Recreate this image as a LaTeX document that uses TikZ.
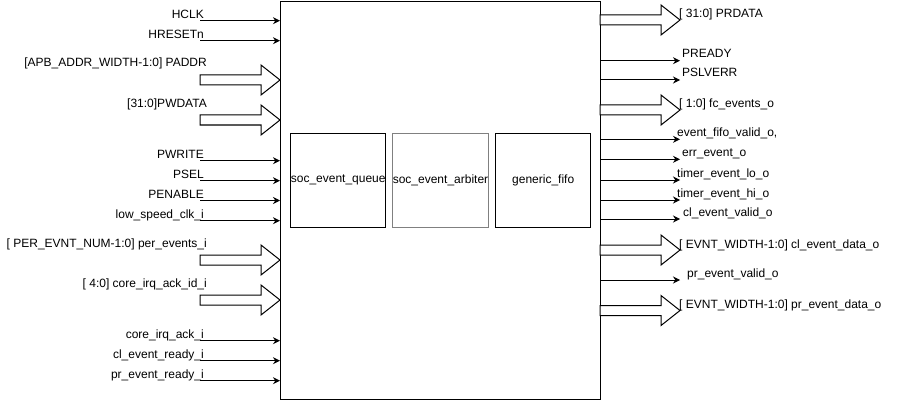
\documentclass[tikz,border=0pt]{standalone}
\usepackage{fontspec}
\setmainfont{Liberation Sans}
\usepackage{tikz}
\usetikzlibrary{arrows.meta}
\tikzset{
    port/.style={draw=black, line width=1pt, -{Stealth[length=7pt,width=7pt]}},
    bus/.style={draw=black, line width=1pt, fill=white},
    block/.style={draw=black, line width=1pt, minimum width=95pt, minimum height=94pt, inner sep=0pt},
    lbl/.style={inner sep=0pt}
}
% wide bus arrow, shaft starts at (#1,#2)
\newcommand{\busarrow}[2]{\draw[bus] (#1,#2) ++(0,-5) -- ++(61,0) -- ++(0,-10) -- ++(19,15) -- ++(-19,15) -- ++(0,-10) -- ++(-61,0) -- cycle;}

\begin{document}
\begin{tikzpicture}[x=1pt, y=-1pt, font=\fontsize{12}{14}\selectfont]
\useasboundingbox (0,0) rectangle (920,401);
\node[draw, line width=1pt, minimum width=320pt, minimum height=398pt, anchor=north west] (top) at (280,1) {};

\node[block] (queue) at (338.2,180) {soc\_event\_queue};
\node[block, draw=gray] (arbiter) at (440.5,180) {soc\_event\_arbiter};
\node[block] (fifo) at (543.2,180) {generic\_fifo};

% single inputs
\foreach \y/\name/\txt in {20.7/hclk/HCLK, 40.7/hresetn/HRESETn, 160.7/pwrite/PWRITE,
    180.7/psel/PSEL, 200.5/penable/PENABLE, 220.7/lsclk/low\_speed\_clk\_i,
    340.7/irqack/core\_irq\_ack\_i, 360.7/clready/cl\_event\_ready\_i,
    380.7/prready/pr\_event\_ready\_i}{
  \coordinate (\name) at (200,\y);
  \node[lbl, anchor=base east] (\name-lbl) at (204,\y-2.5) {\txt};
  \draw[port] (\name) -- (\name -| top.west);
}

% bus inputs
\foreach \y/\name/\txt in {80/paddr/{[APB\_ADDR\_WIDTH-1:0] PADDR}, 120/pwdata/{[31:0]PWDATA},
    260/perevents/{[ PER\_EVNT\_NUM-1:0] per\_events\_i}, 300/irqid/{[ 4:0] core\_irq\_ack\_id\_i}}{
  \busarrow{200}{\y}
  \node[lbl, anchor=base east] (\name-lbl) at (207,\y-13) {\txt};
}

% single outputs
\foreach \y/\name/\txt/\dx in {60.7/pready/PREADY/2, 80/pslverr/PSLVERR/2,
    139.3/fifovalid/{event\_fifo\_valid\_o,}/-3, 159.3/errevent/err\_event\_o/2,
    180/timerlo/timer\_event\_lo\_o/-3, 200/timerhi/timer\_event\_hi\_o/-3,
    219/clvalid/cl\_event\_valid\_o/3, 280/prvalid/pr\_event\_valid\_o/7}{
  \coordinate (\name) at (680,\y);
  \node[lbl, anchor=base west] (\name-lbl) at (680+\dx,\y-3) {\txt};
  \draw[port] (\name -| top.east) -- (\name);
}

% bus outputs
\foreach \y/\name/\txt in {20/prdata/{[ 31:0] PRDATA}, 110/fcevents/{[ 1:0] fc\_events\_o},
    250/cldata/{[ EVNT\_WIDTH-1:0] cl\_event\_data\_o}, 310.5/prdata2/{[ EVNT\_WIDTH-1:0] pr\_event\_data\_o}}{
  \node[lbl, anchor=base west] (\name-lbl) at (679,\y-2) {\txt};
  \busarrow{600}{\y}
}
\end{tikzpicture}
\end{document}
